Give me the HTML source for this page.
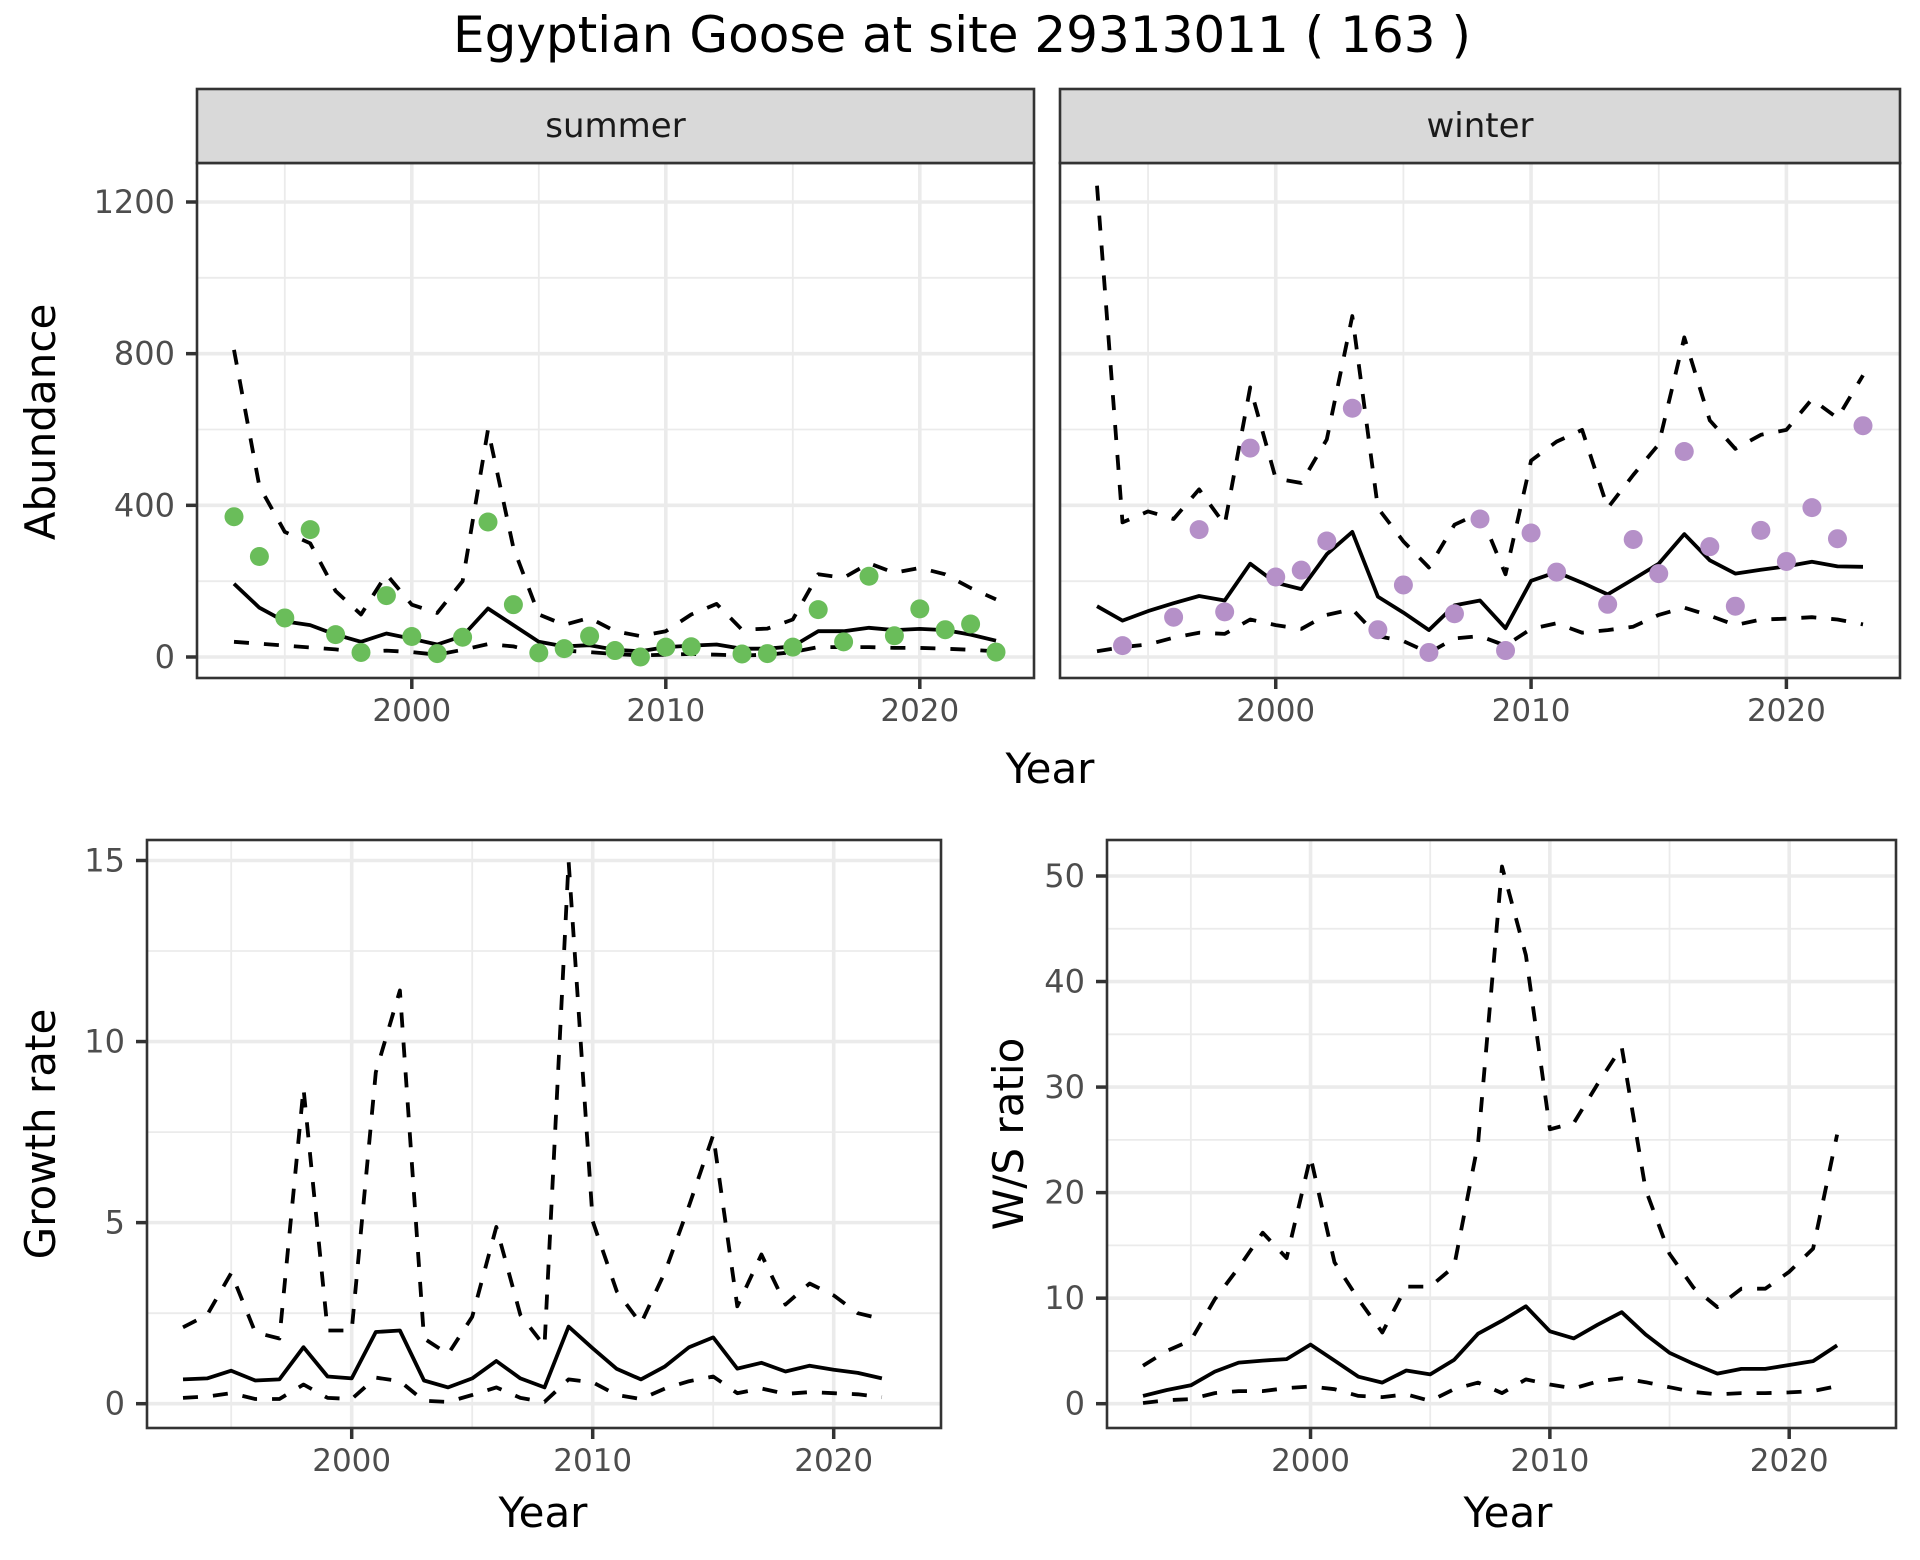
<!DOCTYPE html>
<html><head><meta charset="utf-8"><style>
html,body{margin:0;padding:0;background:#fff;}
svg{display:block;font-family:"DejaVu Sans","Liberation Sans",sans-serif;}
</style></head><body>
<svg id="chart" width="1920" height="1560" viewBox="0 0 1920 1560" xmlns="http://www.w3.org/2000/svg">
<rect x="0" y="0" width="1920" height="1560" fill="#fff"/>
<text x="962" y="52" font-size="50" text-anchor="middle" fill="#000">Egyptian Goose at site 29313011 ( 163 )</text>
</svg>
<script>
const years = [1993,1994,1995,1996,1997,1998,1999,2000,2001,2002,2003,2004,2005,2006,2007,2008,2009,2010,2011,2012,2013,2014,2015,2016,2017,2018,2019,2020,2021,2022,2023];
const summerCount = [370,265,103,336,59,12,162,54,9,52,356,138,11,22,55,17,0,26,27,null,8,9,26,125,40,213,56,127,72,87,13];
const summerMid = [193,130,94,84,59,40,62,48,33,55,128,84,40,28,31,19,15,26,30,33,22,22,28,68,68,77,71,74,71,59,43];
const summerHi = [810,450,330,300,174,112,218,138,116,200,600,288,112,85,103,68,55,68,112,140,72,75,99,218,209,247,222,235,218,182,152];
const summerLo = [40,35,30,25,20,13,17,13,6,19,34,28,11,17,13,8,4,6,8,6,4,6,13,26,26,26,24,24,22,19,15];
const winterCount = [null,30,null,105,336,119,551,211,229,306,656,72,190,12,114,364,17,327,224,null,139,310,220,542,291,134,334,252,394,312,610];
const winterMid = [134,96,121,142,161,149,246,196,179,271,330,159,117,71,136,149,76,201,224,196,165,205,246,324,255,220,230,239,251,239,238];
const winterHi = [1243,355,384,364,442,349,711,471,459,574,899,393,305,236,349,380,218,518,568,599,393,480,561,843,624,549,586,599,680,630,743];
const winterLo = [15,26,33,51,64,61,99,84,74,111,126,55,42,11,49,55,30,74,89,64,71,80,111,130,109,84,99,101,105,99,86];
const growthYears = [1993,1994,1995,1996,1997,1998,1999,2000,2001,2002,2003,2004,2005,2006,2007,2008,2009,2010,2011,2012,2013,2014,2015,2016,2017,2018,2019,2020,2021,2022];
const growthMid = [0.67,0.70,0.91,0.64,0.67,1.56,0.75,0.70,1.98,2.02,0.64,0.45,0.70,1.18,0.70,0.45,2.13,1.53,0.96,0.67,1.03,1.56,1.83,0.97,1.13,0.89,1.05,0.94,0.85,0.70];
const growthHi = [2.11,2.45,3.61,1.97,1.80,8.71,2.02,2.02,9.15,11.41,1.80,1.37,2.40,4.88,2.45,1.59,14.98,5.04,3.10,2.21,3.64,5.47,7.42,2.69,4.12,2.74,3.32,2.99,2.50,2.34];
const growthLo = [0.16,0.20,0.29,0.13,0.13,0.53,0.16,0.13,0.72,0.62,0.08,0.05,0.24,0.45,0.16,0.05,0.67,0.59,0.24,0.13,0.42,0.62,0.75,0.29,0.42,0.27,0.32,0.29,0.26,0.18];
const ratioMid = [0.74,1.3,1.74,3.04,3.89,4.08,4.23,5.6,4.08,2.56,2.0,3.15,2.78,4.15,6.63,7.86,9.23,6.86,6.19,7.49,8.67,6.56,4.82,3.78,2.85,3.3,3.3,3.67,4.04,5.52];
const ratioHi = [3.6,5.0,6.0,9.9,12.9,16.2,13.8,23.4,13.4,9.9,6.75,11.1,11.1,13.0,24.7,50.9,42.5,26.0,26.6,30.3,33.8,20.3,14.2,11.0,9.15,10.9,10.9,12.5,14.7,25.5];
const ratioLo = [0.07,0.33,0.44,1.0,1.19,1.19,1.48,1.63,1.37,0.74,0.63,0.89,0.26,1.37,2.0,1.0,2.3,1.82,1.45,2.11,2.41,2.04,1.56,1.11,0.89,1.0,1.0,1.07,1.19,1.67];
const xTicks = [2000,2010,2020];
const xMinor = [1995,2005,2015];
const abundTicks = [0,400,800,1200];
const abundMinor = [200,600,1000];
const growthTicks = [0,5,10,15];
const growthMinor = [2.5,7.5,12.5];
const ratioTicks = [0,10,20,30,40,50];
const ratioMinor = [5,15,25,35,45];

const NS="http://www.w3.org/2000/svg";
const svg=document.getElementById('chart');
function mk(tag,attrs,parent){const e=document.createElementNS(NS,tag);for(const k in attrs)e.setAttribute(k,attrs[k]);(parent||svg).appendChild(e);return e;}
function lin(d0,d1,r0,r1){return v=>r0+(v-d0)*(r1-r0)/(d1-d0);}

function panel(name,L,R,T,B,x,y,yT,yMin,showYLabels){
  const g=mk('g',{});
  
  
  mk('rect',{x:L,y:T,width:R-L,height:B-T,fill:'#fff'},g);
  yMin.forEach(v=>{const l=mk('line',{x1:L,x2:R,y1:y(v),y2:y(v),stroke:'#ebebeb','stroke-width':1.8},g);});
  xMinor.forEach(v=>{const l=mk('line',{x1:x(v),x2:x(v),y1:T,y2:B,stroke:'#ebebeb','stroke-width':1.8},g);});
  yT.forEach(v=>{const l=mk('line',{x1:L,x2:R,y1:y(v),y2:y(v),stroke:'#ebebeb','stroke-width':3.6},g);});
  xTicks.forEach(v=>{const l=mk('line',{x1:x(v),x2:x(v),y1:T,y2:B,stroke:'#ebebeb','stroke-width':3.6},g);});
  xTicks.forEach(v=>{
    const t=mk('line',{x1:x(v),x2:x(v),y1:B,y2:B+11,stroke:'#333','stroke-width':3.5},g);
    const tx=mk('text',{x:x(v),y:B+43,'font-size':31,'text-anchor':'middle',fill:'#4d4d4d'},g);tx.textContent=v;
    
  });
  if(showYLabels) yT.forEach(v=>{
    const t=mk('line',{x1:L-11,x2:L,y1:y(v),y2:y(v),stroke:'#333','stroke-width':3.5},g);
    const tx=mk('text',{x:L-22,y:y(v)+11,'font-size':32,'text-anchor':'end',fill:'#4d4d4d'},g);tx.textContent=v;
    
  });
  return g;
}
function line(g,xs,vals,x,y,dashed,name){
  let d='';let pen=false;
  vals.forEach((v,i)=>{if(v==null){pen=false;return;}d+=(pen?'L':'M')+x(xs[i]).toFixed(1)+','+y(v).toFixed(1);pen=true;});
  const p=mk('path',{d:d,fill:'none',stroke:'#000','stroke-width':3.8,'stroke-linejoin':'round'},g);
  if(dashed)p.setAttribute('stroke-dasharray','15 15');
  
  
}
function points(g,xs,vals,x,y,col,name){
  vals.forEach((v,i)=>{if(v==null)return;
    const c=mk('circle',{cx:x(xs[i]),cy:y(v),r:9.5,fill:col},g);
    
    
  });
}
function border(g,L,R,T,B){mk('rect',{x:L,y:T,width:R-L,height:B-T,fill:'none',stroke:'#333','stroke-width':2.6},g);}
function strip(L,R,T,B,label){
  const r=mk('rect',{x:L,y:T,width:R-L,height:B-T,fill:'#d9d9d9',stroke:'#333','stroke-width':2.6});
  
  
  const t=mk('text',{x:(L+R)/2,y:(T+B)/2+11,'font-size':34,'text-anchor':'middle',fill:'#1a1a1a'});t.textContent=label;
  
  
}
function label(txt,xp,yp,size,rot,name){
  const t=mk('text',{x:xp,y:yp,'font-size':size,'text-anchor':'middle',fill:'#000'});
  if(rot)t.setAttribute('transform','rotate(-90 '+xp+' '+yp+')');
  t.textContent=txt;
  
  
}

// Summer
{const L=197,R=1034,T=163,B=678;
 const x=lin(1993,2023,234,996), y=lin(0,1200,657,202);
 const g=panel('summer-panel',L,R,T,B,x,y,abundTicks,abundMinor,true);
 line(g,years,summerHi,x,y,true,'summer-upper-ci');
 line(g,years,summerLo,x,y,true,'summer-lower-ci');
 line(g,years,summerMid,x,y,false,'summer-trend-line');
 points(g,years,summerCount,x,y,'#6abd5a','summer-count-point');
 border(g,L,R,T,B);
 strip(L,R,89,163,'summer');}
// Winter
{const L=1060,R=1900,T=163,B=678;
 const x=lin(1993,2023,1097,1863), y=lin(0,1200,657,202);
 const g=panel('winter-panel',L,R,T,B,x,y,abundTicks,abundMinor,false);
 line(g,years,winterHi,x,y,true,'winter-upper-ci');
 line(g,years,winterLo,x,y,true,'winter-lower-ci');
 line(g,years,winterMid,x,y,false,'winter-trend-line');
 points(g,years,winterCount,x,y,'#b590c8','winter-count-point');
 border(g,L,R,T,B);
 strip(L,R,89,163,'winter');}
// Growth
{const L=147,R=941,T=840,B=1428;
 const x=lin(1993,2023,183,906), y=lin(0,15,1403.7,860.5);
 const g=panel('growth-rate-panel',L,R,T,B,x,y,growthTicks,growthMinor,true);
 line(g,growthYears,growthHi,x,y,true,'growth-upper-ci');
 line(g,growthYears,growthLo,x,y,true,'growth-lower-ci');
 line(g,growthYears,growthMid,x,y,false,'growth-trend-line');
 border(g,L,R,T,B);}
// W/S ratio
{const L=1107,R=1896,T=840,B=1428;
 const x=lin(1993,2023,1143,1861), y=lin(0,50,1403.7,876);
 const g=panel('ws-ratio-panel',L,R,T,B,x,y,ratioTicks,ratioMinor,true);
 line(g,growthYears,ratioHi,x,y,true,'ratio-upper-ci');
 line(g,growthYears,ratioLo,x,y,true,'ratio-lower-ci');
 line(g,growthYears,ratioMid,x,y,false,'ratio-trend-line');
 border(g,L,R,T,B);}

label('Year',1050,783,42,false,'top-x-axis-title');
label('Abundance',55,422,42,true,'abundance-y-axis-title');
label('Year',543,1527,42,false,'growth-x-axis-title');
label('Growth rate',55,1134,42,true,'growth-y-axis-title');
label('Year',1508,1527,42,false,'ratio-x-axis-title');
label('W/S ratio',1023,1134,42,true,'ratio-y-axis-title');
</script>
</body></html>
